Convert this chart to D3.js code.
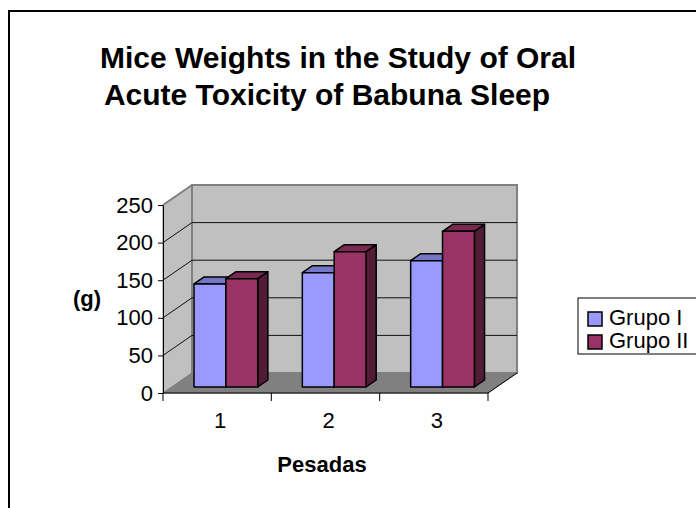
<!DOCTYPE html>
<meta charset="utf-8">
<style>
body { margin: 0; background: #fff; }
svg { font-family: "Liberation Sans", Arial, sans-serif; }
.tick text { font-size: 22px; }
.title { font-size: 30px; font-weight: bold; }
.label { font-size: 22px; font-weight: bold; }
.legend text { font-size: 22px; }
</style>
<body>
<script src="https://d3js.org/d3.v7.min.js"></script>
<script>

// chart data
var categories = ["1", "2", "3"];
var seriesNames = ["Grupo I", "Grupo II"];
var grupoI = [137, 152, 168];
var grupoII = [144, 180, 207];
var yTicks = [0, 50, 100, 150, 200, 250];

var series = [grupoI, grupoII];
var colors = [
  {front: "#9999ff", top: "#7676c8", side: "#5c5c99"},
  {front: "#993366", top: "#7a2952", side: "#521b36"}
];

var width = 696, height = 508;

// 3d depth offset of the plot box
var depthX = 29, depthY = -20;
// bars sit between these depth fractions
var zFront = 0.3, zBack = 0.65;

var svg = d3.select("body").append("svg")
  .attr("width", width)
  .attr("height", height);

// outer chart border (runs off right/bottom)
svg.append("rect")
  .attr("x", 9).attr("y", 11)
  .attr("width", 720).attr("height", 540)
  .attr("fill", "none")
  .attr("stroke", "#000")
  .attr("stroke-width", 2);

var x = d3.scaleBand().domain(categories).range([163, 488]);
var xInner = d3.scaleBand().domain(seriesNames).range([0, x.bandwidth()])
  .paddingOuter(0.7);
var y = d3.scaleLinear().domain([0, 250]).range([393, 205]);

// project a (screen x, value, depth) to screen coordinates
function px(sx, z) { return sx + z * depthX; }
function py(v, z) { return y(v) + z * depthY; }

function poly(pts) {
  return "M" + pts.map(function(p) { return p.join(","); }).join("L") + "Z";
}

var x0 = x.range()[0], x1 = x.range()[1];

// walls and floor
svg.append("path")
  .attr("d", poly([[px(x0, 0), py(250, 0)], [px(x0, 1), py(250, 1)],
                   [px(x0, 1), py(0, 1)], [px(x0, 0), py(0, 0)]]))
  .attr("fill", "#c0c0c0").attr("stroke", "#808080");
svg.append("path")
  .attr("d", poly([[px(x0, 1), py(250, 1)], [px(x1, 1), py(250, 1)],
                   [px(x1, 1), py(0, 1)], [px(x0, 1), py(0, 1)]]))
  .attr("fill", "#c0c0c0").attr("stroke", "#808080").attr("stroke-width", 2);
svg.append("path")
  .attr("d", poly([[px(x0, 0), py(0, 0)], [px(x0, 1), py(0, 1)],
                   [px(x1, 1), py(0, 1)], [px(x1, 0), py(0, 0)]]))
  .attr("fill", "#808080").attr("stroke", "#808080");

// gridlines on side and back wall
var grid = svg.append("g").attr("stroke", "#111").attr("fill", "none");
yTicks.slice(1, -1).forEach(function(v) {
  grid.append("path")
    .attr("d", "M" + px(x0, 0) + "," + py(v, 0) + "L" + px(x0, 1) + "," + py(v, 1)
      + "L" + px(x1, 1) + "," + py(v, 1));
});
svg.append("line")
  .attr("x1", px(x0, 0)).attr("y1", py(250, 0))
  .attr("x2", px(x0, 1)).attr("y2", py(250, 1))
  .attr("stroke", "#808080").attr("stroke-width", 2);
svg.append("line")
  .attr("x1", px(x1, 0)).attr("y1", py(0, 0))
  .attr("x2", px(x1, 1)).attr("y2", py(0, 1))
  .attr("stroke", "#000");

// bars
categories.forEach(function(c, i) {
  series.forEach(function(s, j) {
    var v = s[i];
    var bx0 = x(c) + xInner(seriesNames[j]);
    var bx1 = bx0 + xInner.bandwidth();
    var g = svg.append("g").attr("stroke", "#000").attr("stroke-width", 1.5)
      .attr("stroke-linejoin", "round");
    // side
    g.append("path")
      .attr("d", poly([[px(bx1, zFront), py(0, zFront)], [px(bx1, zFront), py(v, zFront)],
                       [px(bx1, zBack), py(v, zBack)], [px(bx1, zBack), py(0, zBack)]]))
      .attr("fill", colors[j].side);
    // top
    g.append("path")
      .attr("d", poly([[px(bx0, zFront), py(v, zFront)], [px(bx0, zBack), py(v, zBack)],
                       [px(bx1, zBack), py(v, zBack)], [px(bx1, zFront), py(v, zFront)]]))
      .attr("fill", colors[j].top);
    // front
    g.append("path")
      .attr("d", poly([[px(bx0, zFront), py(0, zFront)], [px(bx0, zFront), py(v, zFront)],
                       [px(bx1, zFront), py(v, zFront)], [px(bx1, zFront), py(0, zFront)]]))
      .attr("fill", colors[j].front);
  });
});

// value axis
var yAxis = svg.append("g")
  .attr("transform", "translate(" + x0 + ",0)")
  .call(d3.axisLeft(y).tickValues(yTicks).tickSize(5).tickPadding(5).tickSizeOuter(0));
yAxis.select(".domain").attr("stroke", "#000");
yAxis.selectAll(".tick text").attr("fill", "#000").attr("font-family", null).attr("font-size", null);

// category axis
var xAxis = svg.append("g")
  .attr("transform", "translate(0," + y(0) + ")");
xAxis.append("line")
  .attr("x1", x0).attr("x2", x1).attr("stroke", "#000");
xAxis.selectAll(".xt")
  .data(categories.concat([null]))
  .enter().append("line")
  .attr("x1", function(d, i) { return d ? x(d) : x1; })
  .attr("x2", function(d, i) { return d ? x(d) : x1; })
  .attr("y1", 0).attr("y2", 8)
  .attr("stroke", "#000");
xAxis.selectAll(".xl")
  .data(categories)
  .enter().append("text")
  .attr("x", function(d) { return x(d) + x.bandwidth() / 2 + 3; })
  .attr("y", 35)
  .attr("text-anchor", "middle")
  .style("font-size", "22px")
  .text(function(d) { return d; });

// titles
svg.append("text").attr("class", "title")
  .attr("x", 338).attr("y", 68).attr("text-anchor", "middle")
  .text("Mice Weights in the Study of Oral");
svg.append("text").attr("class", "title")
  .attr("x", 327).attr("y", 105).attr("text-anchor", "middle")
  .text("Acute Toxicity of Babuna Sleep");
svg.append("text").attr("class", "label")
  .attr("x", 87).attr("y", 306).attr("text-anchor", "middle")
  .text("(g)");
svg.append("text").attr("class", "label")
  .attr("x", 322).attr("y", 472).attr("text-anchor", "middle")
  .text("Pesadas");

// legend
var legend = svg.append("g").attr("class", "legend")
  .attr("transform", "translate(578,298)");
legend.append("rect")
  .attr("width", 140).attr("height", 56)
  .attr("fill", "#fff").attr("stroke", "#000");
var item = legend.selectAll(".item")
  .data(seriesNames)
  .enter().append("g")
  .attr("transform", function(d, i) { return "translate(10," + (14 + i * 23) + ")"; });
item.append("rect")
  .attr("width", 14).attr("height", 14)
  .attr("fill", function(d, i) { return colors[i].front; })
  .attr("stroke", "#000").attr("stroke-width", 1.5);
item.append("text")
  .attr("x", 21).attr("y", 13)
  .text(function(d) { return d; });

</script>
</body>
